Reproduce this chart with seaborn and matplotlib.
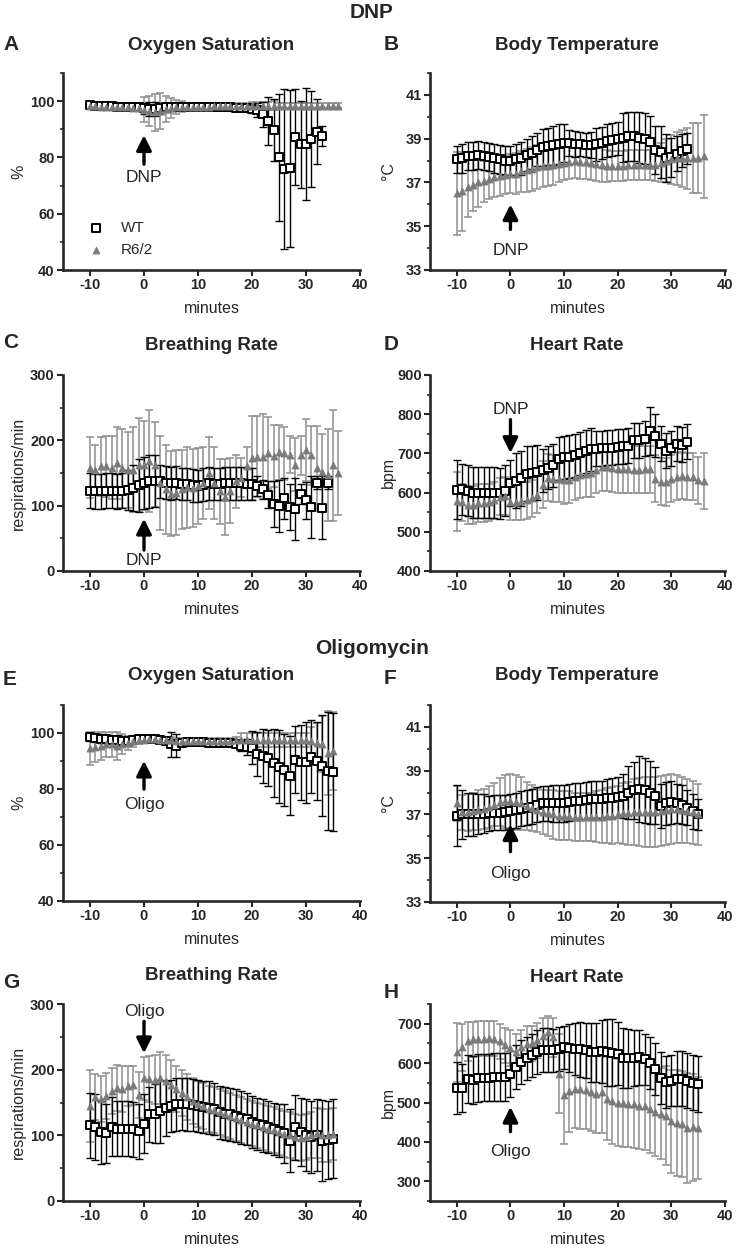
import numpy as np
import matplotlib
matplotlib.use("Agg")
import matplotlib.pyplot as plt
from matplotlib.ticker import AutoMinorLocator
import seaborn as sns

sns.set_style("ticks")
plt.rcParams["font.family"] = ["Liberation Sans", "DejaVu Sans"]
plt.rcParams["font.weight"] = "bold"
plt.rcParams["axes.unicode_minus"] = False

# ---------------- DNP ----------------
# A: oxygen saturation (%)
a_wt_min = np.arange(-10, 34)
a_wt = [98.5, 98.4, 98.3, 98.2, 98.1, 98.0, 98.0, 97.9, 97.8, 97.8,
        97.4, 97.2, 97.3, 97.5, 97.8, 97.9, 98.0, 98.0, 98.0, 98.0,
        98.0, 98.0, 98.0, 97.9, 97.9, 97.8, 97.8, 97.7, 97.7, 97.6,
        97.3, 96.8, 95.3, 92.9, 89.6, 80.0, 75.9, 76.1, 87.3, 84.7,
        84.7, 86.5, 89.2, 87.6]
a_wt_err = [0.8] * 10 + [2.0, 2.5, 2.5, 2.0, 1.5, 1.5, 1.2] + [0.8] * 13 + \
           [1.5, 2.5, 4.5, 8.5, 11.0, 22.5, 28.5, 28.0, 17.0, 15.5, 20.0, 17.0, 11.5, 3.5]
a_r6_min = np.arange(-10, 37)
a_r6 = [98.2, 98.1, 98.0, 98.0, 97.9, 97.9, 97.8, 97.8, 97.7, 97.6,
        97.0, 96.5, 96.0, 96.5, 97.2, 97.6, 97.8, 98.0, 98.0, 98.0,
        98.0, 98.0, 98.0, 98.1, 98.1, 98.1, 98.1, 98.2, 98.2, 98.3,
        98.3, 98.3, 98.3, 98.3, 98.4, 98.4, 98.4, 98.4, 98.4, 98.4,
        98.4, 98.4, 98.4, 98.4, 98.4, 98.4, 98.4]
a_r6_err = [0.8] * 10 + [4.5, 5.5, 6.5, 6.5, 4.5, 3.5, 2.5, 2.0, 1.5] + [1.0] * 11 + \
           [1.5] * 5 + [0.8] * 12

# B: body temperature (C)
b_wt_min = np.arange(-10, 34)
b_wt = [38.05, 38.1, 38.2, 38.2, 38.25, 38.2, 38.15, 38.1, 38.05, 38.0,
        38.0, 38.05, 38.1, 38.25, 38.35, 38.5, 38.6, 38.65, 38.7, 38.75,
        38.8, 38.8, 38.75, 38.75, 38.7, 38.7, 38.75, 38.8, 38.9, 38.95,
        39.0, 39.05, 39.1, 39.1, 39.05, 39.0, 38.85, 38.5, 38.4, 38.1,
        38.15, 38.3, 38.45, 38.55]
b_wt_err = [0.6, 0.65, 0.65, 0.65, 0.65, 0.65, 0.65, 0.65, 0.65, 0.65,
            0.65, 0.7, 0.75, 0.75, 0.75, 0.75, 0.85, 0.85, 0.9, 0.9,
            0.85, 0.6, 0.6, 0.55, 0.55, 0.6, 0.75, 0.75, 0.75, 0.75,
            0.75, 1.1, 1.1, 1.1, 1.15, 1.15, 1.2, 1.1, 1.2, 1.1,
            0.9, 0.8, 0.75, 0.7]
b_r6_min = np.arange(-10, 37)
b_r6 = [36.5, 36.6, 36.8, 36.9, 37.0, 37.05, 37.15, 37.25, 37.3, 37.35,
        37.4, 37.4, 37.5, 37.55, 37.6, 37.7, 37.75, 37.75, 37.8, 37.85,
        37.9, 37.95, 38.0, 37.95, 37.95, 37.9, 37.85, 37.8, 37.75, 37.75,
        37.75, 37.75, 37.8, 37.8, 37.8, 37.8, 37.8, 37.8, 37.9, 38.0,
        38.05, 38.1, 38.1, 38.1, 38.1, 38.1, 38.2]
b_r6_err = [1.9, 1.8, 1.4, 1.2, 1.1, 0.95, 0.9, 0.9, 0.9, 0.9,
            0.9, 0.95, 0.95, 1.0, 1.0, 1.0, 0.95, 0.9, 0.9, 0.85,
            0.8, 0.8, 0.8, 0.8, 0.8, 0.8, 0.8, 0.8, 0.75, 0.7,
            0.7, 0.7, 0.7, 0.7, 0.7, 0.7, 0.7, 0.75, 0.9, 1.0,
            1.1, 1.2, 1.3, 1.4, 1.6, 1.6, 1.9]

# C: breathing rate (respirations/min)
c_wt_min = np.arange(-10, 35)
c_wt = [123, 122, 122, 123, 123, 122, 123, 124, 127, 131,
        135, 137, 138, 137, 135, 134, 135, 133, 133, 131,
        130, 132, 134, 133, 133, 134, 134, 134, 134, 133,
        133, 130, 125, 117, 103, 100, 111, 98, 95, 118,
        108, 98, 135, 97, 135]
c_wt_err = [27, 27, 27, 27, 27, 27, 27, 30, 35, 40,
            40, 40, 40, 25, 25, 25, 25, 25, 25, 25,
            25, 25, 25, 25, 25, 25, 25, 25, 25, 25,
            25, 15, 15, 20, 35, 40, 32, 35, 47, 15,
            28, 48, 10, 48, 10]
c_r6_min = np.arange(-10, 37)
c_r6 = [158, 155, 160, 160, 158, 165, 157, 155, 155, 162,
        162, 168, 163, 135, 125, 118, 120, 125, 128, 127,
        130, 135, 150, 135, 122, 113, 123, 137, 143, 160,
        173, 175, 175, 180, 176, 182, 180, 178, 163, 177,
        185, 177, 157, 152, 147, 162, 150]
c_r6_err = [47, 38, 45, 47, 48, 55, 60, 58, 65, 72,
            68, 78, 65, 72, 68, 65, 65, 60, 62, 60,
            58, 55, 55, 55, 50, 58, 50, 40, 30, 30,
            65, 62, 65, 55, 48, 42, 40, 28, 40, 30,
            48, 45, 65, 58, 70, 85, 65]

# D: heart rate (bpm)
d_wt_min = np.arange(-10, 34)
d_wt = [607, 608, 605, 600, 600, 600, 600, 600, 598, 605,
        625, 630, 637, 648, 650, 652, 657, 663, 670, 686,
        690, 692, 695, 700, 705, 710, 712, 713, 715, 715,
        717, 718, 720, 733, 733, 738, 757, 745, 725, 707,
        713, 725, 722, 730]
d_wt_err = [75, 65, 65, 65, 65, 65, 65, 65, 65, 65,
            58, 70, 70, 70, 70, 70, 55, 55, 55, 55,
            55, 55, 55, 55, 55, 55, 45, 45, 45, 45,
            45, 45, 45, 45, 45, 45, 62, 55, 45, 45,
            45, 45, 45, 45]
d_r6_min = np.arange(-10, 37)
d_r6 = [578, 575, 568, 568, 573, 573, 575, 580, 590, 592,
        577, 577, 578, 580, 585, 595, 620, 638, 635, 635,
        632, 633, 640, 645, 648, 650, 658, 665, 665, 662,
        660, 660, 660, 658, 658, 660, 660, 635, 628, 627,
        635, 640, 643, 640, 640, 632, 630]
d_r6_err = [75] + [48] * 15 + [60] * 30 + [72]

# ---------------- Oligomycin ----------------
# E: oxygen saturation (%)
e_wt_min = np.arange(-10, 36)
e_wt = [98.5, 98.2, 98.0, 97.8, 97.6, 97.5, 97.3, 97.2, 97.5, 97.7,
        97.8, 97.8, 97.8, 97.6, 97.3, 96.0, 95.5, 96.5, 96.8, 96.8,
        96.8, 96.7, 96.6, 96.5, 96.3, 96.3, 96.3, 96.0, 95.5, 95.0,
        94.8, 92.5, 91.8, 91.2, 89.3, 88.0, 86.8, 84.8, 90.5, 89.5,
        89.5, 91.5, 90.0, 88.3, 86.5, 86.0]
e_wt_err = [1.5] * 7 + [1.0] * 8 + [4.5, 4.0] + [1.0] * 11 + \
           [2.0, 3.0, 6.0, 8.0, 9.5, 10.0, 12.0, 13.0, 13.0, 14.0,
            12.0, 13.5, 14.5, 13.0, 14.0, 18.0, 21.0, 21.0]
e_r6_min = np.arange(-10, 36)
e_r6 = [94.5, 95.0, 95.5, 96.0, 96.0, 95.5, 96.0, 96.5, 97.0, 97.5,
        97.6, 97.7, 97.7, 97.6, 97.5, 97.4, 97.3, 97.3, 97.3, 97.3,
        97.3, 97.3, 97.3, 97.3, 97.3, 97.3, 97.3, 97.4, 97.4, 97.5,
        97.5, 97.5, 97.5, 97.5, 97.5, 97.5, 97.5, 97.5, 97.5, 97.5,
        97.5, 97.0, 96.5, 96.0, 93.0, 93.5]
e_r6_err = [6.0, 5.5, 5.0, 4.5, 4.5, 5.0, 3.5, 2.5, 2.0, 1.5] + [1.0] * 18 + \
           [2.5] * 13 + [5.0, 7.0, 10.0, 15.0, 14.0]

# F: body temperature (C)
f_wt_min = np.arange(-10, 36)
f_wt = [36.95, 37.0, 37.0, 37.0, 37.02, 37.03, 37.05, 37.07, 37.08, 37.1,
        37.15, 37.2, 37.25, 37.3, 37.35, 37.45, 37.5, 37.5, 37.5, 37.5,
        37.5, 37.55, 37.6, 37.6, 37.65, 37.7, 37.7, 37.7, 37.75, 37.75,
        37.8, 37.85, 38.0, 38.1, 38.15, 38.1, 38.0, 37.85, 37.4, 37.5,
        37.55, 37.5, 37.45, 37.3, 37.15, 37.0]
f_wt_err = [1.4, 1.1, 1.0, 1.0, 0.9, 0.9, 0.8, 0.8, 0.8, 0.8,
            0.8, 0.8, 0.8, 0.8, 0.8, 0.8, 0.8, 0.8, 0.85, 0.85,
            0.85, 0.85, 0.85, 0.85, 0.85, 0.85, 0.85, 0.85, 0.85, 0.9,
            0.9, 1.0, 1.2, 1.3, 1.5, 1.5, 1.45, 1.3, 1.0, 1.0,
            1.0, 0.9, 0.9, 0.8, 0.8, 0.7]
f_r6_min = np.arange(-10, 36)
f_r6 = [37.5, 37.1, 37.1, 37.15, 37.2, 37.25, 37.35, 37.45, 37.55, 37.6,
        37.6, 37.55, 37.5, 37.4, 37.3, 37.2, 37.1, 37.05, 37.0, 36.95,
        36.95, 36.95, 36.9, 36.9, 36.9, 36.9, 36.9, 36.9, 36.95, 36.95,
        37.0, 37.05, 37.05, 37.1, 37.1, 37.1, 37.1, 37.1, 37.15, 37.2,
        37.25, 37.25, 37.2, 37.15, 37.1, 37.0]
f_r6_err = [0.8, 0.8, 0.85, 0.85, 0.9, 0.9, 0.95, 1.0, 1.1, 1.2,
            1.25, 1.25, 1.2, 1.1, 1.05, 1.0, 1.0, 1.05, 1.1, 1.1,
            1.1, 1.1, 1.1, 1.1, 1.1, 1.1, 1.15, 1.2, 1.25, 1.3,
            1.3, 1.4, 1.45, 1.5, 1.55, 1.6, 1.6, 1.6, 1.6, 1.6,
            1.6, 1.55, 1.5, 1.45, 1.45, 1.4]

# G: breathing rate (respirations/min)
g_wt_min = np.arange(-10, 36)
g_wt = [115, 113, 105, 103, 113, 110, 110, 110, 109, 106,
        118, 132, 133, 137, 141, 145, 147, 148, 147, 146,
        145, 143, 142, 140, 135, 133, 132, 130, 127, 125,
        120, 117, 115, 113, 110, 107, 103, 92, 112, 105,
        100, 97, 100, 92, 93, 95]
g_wt_err = [50, 50, 48, 45, 45, 42, 42, 42, 42, 42,
            45, 42, 45, 48, 42, 40, 40, 40, 40, 40,
            40, 40, 40, 40, 40, 40, 40, 40, 40, 40,
            40, 40, 40, 40, 40, 40, 45, 48, 50, 52,
            55, 55, 55, 62, 60, 60]
g_r6_min = np.arange(-10, 36)
g_r6 = [145, 158, 155, 160, 168, 172, 170, 175, 176, 162,
        187, 186, 185, 187, 183, 177, 170, 165, 158, 152,
        148, 144, 140, 138, 135, 133, 130, 127, 124, 121,
        118, 115, 113, 110, 108, 105, 102, 100, 97, 96,
        98, 100, 103, 100, 100, 102]
g_r6_err = [55, 35, 35, 35, 35, 35, 35, 30, 30, 35,
            33, 35, 38, 40, 40, 38, 35, 35, 35, 35,
            35, 35, 35, 35, 35, 35, 35, 35, 35, 35,
            35, 35, 35, 35, 35, 35, 35, 35, 35, 35,
            35, 35, 38, 40, 40, 40]

# H: heart rate (bpm)
h_wt_min = np.arange(-10, 36)
h_wt = [537, 537, 560, 557, 562, 563, 563, 565, 565, 565,
        573, 590, 603, 612, 620, 628, 633, 633, 632, 636,
        640, 638, 636, 635, 632, 628, 628, 630, 628, 626,
        624, 613, 612, 613, 615, 610, 600, 585, 562, 552,
        555, 560, 560, 555, 550, 547]
h_wt_err = [65, 60, 60, 60, 60, 60, 60, 60, 60, 60,
            58, 55, 55, 55, 55, 55, 55, 55, 55, 55,
            55, 60, 65, 70, 70, 75, 75, 80, 85, 85,
            80, 75, 75, 70, 70, 65, 65, 65, 65, 65,
            65, 70, 70, 70, 70, 70]
h_r6_min = np.arange(-10, 36)
h_r6 = [628, 640, 655, 660, 662, 662, 663, 662, 655, 645,
        638, 628, 640, 648, 650, 658, 670, 680, 665, 573,
        520, 530, 535, 533, 532, 527, 522, 527, 510, 505,
        500, 498, 497, 495, 492, 490, 483, 475, 472, 467,
        452, 448, 445, 435, 437, 435]
h_r6_err = [75, 60, 50, 45, 45, 45, 45, 45, 45, 45,
            45, 45, 45, 45, 45, 45, 45, 40, 50, 100,
            125, 105, 100, 100, 100, 100, 100, 105, 105, 110,
            110, 110, 110, 110, 110, 110, 110, 110, 115, 125,
            130, 135, 135, 140, 135, 130]

W, H = 743, 1248
fig = plt.figure(figsize=(W / 100, H / 100), dpi=100)


def px_axes(left, top, right, bottom):
    return fig.add_axes([left / W, 1 - bottom / H, (right - left) / W, (bottom - top) / H])


GREY = "#7a7a7a"
GREY_BAR = "#8e8e8e"


def draw(ax, xw, yw, ew, xr, yr, er, ylim, yticks, ylabel, legend=False):
    ax.errorbar(xr, yr, yerr=er, fmt="none", ecolor=GREY_BAR, elinewidth=1.1,
                capsize=2.8, capthick=1.1, zorder=2)
    ax.errorbar(xw, yw, yerr=ew, fmt="none", ecolor="black", elinewidth=1.0,
                capsize=2.8, capthick=1.0, zorder=3)
    sns.scatterplot(x=xw, y=yw, marker="s", s=27, color="white", edgecolor="black",
                    linewidth=1.4, ax=ax, zorder=4, label="WT" if legend else None)
    sns.scatterplot(x=xr, y=yr, marker="^", s=26, color=GREY, edgecolor=GREY,
                    linewidth=0.5, ax=ax, zorder=5, label="R6/2" if legend else None)
    ax.set_xlim(-15, 40)
    ax.set_xticks([-10, 0, 10, 20, 30, 40])
    ax.set_ylim(*ylim)
    ax.set_yticks(yticks)
    ax.yaxis.set_minor_locator(AutoMinorLocator(2))
    sns.despine(ax=ax)
    for s in ["left", "bottom"]:
        ax.spines[s].set_linewidth(1.9)
    ax.tick_params(which="major", length=4, width=1.5, labelsize=10.5, pad=2)
    ax.tick_params(which="minor", axis="y", length=2.5, width=1.2)
    ax.set_xlabel("minutes", fontsize=11.5, va="center")
    ax.xaxis.set_label_coords(0.5, -0.195)
    ax.set_ylabel(ylabel, fontsize=11.5, va="center", ha="center")
    ax.yaxis.set_label_coords(-0.15, 0.5)
    if legend:
        ax.legend(loc="lower left", bbox_to_anchor=(0.03, 0.02), frameon=False,
                  prop={"size": 11, "weight": "normal"}, handletextpad=0.6,
                  labelspacing=0.5, borderaxespad=0.2)
    else:
        if ax.get_legend() is not None:
            ax.get_legend().remove()


def arrow(ax, x, head, tail, text_y, label):
    ax.annotate("", xy=(x, head), xytext=(x, tail),
                arrowprops=dict(arrowstyle="-|>,head_length=0.6,head_width=0.3",
                                color="black", lw=2.4, mutation_scale=15,
                                shrinkA=0, shrinkB=0), zorder=6)
    ax.text(x, text_y, label, ha="center", va="center", fontsize=12.5,
            fontweight="normal", zorder=6)


axA = px_axes(63, 73, 360, 270)
axB = px_axes(430, 73, 725, 270)
axC = px_axes(63, 375, 360, 571)
axD = px_axes(430, 375, 725, 571)
axE = px_axes(63, 705, 360, 901)
axF = px_axes(430, 705, 725, 902)
axG = px_axes(63, 1004, 360, 1201)
axH = px_axes(430, 1004, 725, 1201)

draw(axA, a_wt_min, a_wt, a_wt_err, a_r6_min, a_r6, a_r6_err, (40, 110), [40, 60, 80, 100], "%", legend=True)
draw(axB, b_wt_min, b_wt, b_wt_err, b_r6_min, b_r6, b_r6_err, (33, 42), [33, 35, 37, 39, 41], "°C")
draw(axC, c_wt_min, c_wt, c_wt_err, c_r6_min, c_r6, c_r6_err, (0, 300), [0, 100, 200, 300], "respirations/min")
draw(axD, d_wt_min, d_wt, d_wt_err, d_r6_min, d_r6, d_r6_err, (400, 900), [400, 500, 600, 700, 800, 900], "bpm")
draw(axE, e_wt_min, e_wt, e_wt_err, e_r6_min, e_r6, e_r6_err, (40, 110), [40, 60, 80, 100], "%")
draw(axF, f_wt_min, f_wt, f_wt_err, f_r6_min, f_r6, f_r6_err, (33, 42), [33, 35, 37, 39, 41], "°C")
draw(axG, g_wt_min, g_wt, g_wt_err, g_r6_min, g_r6, g_r6_err, (0, 300), [0, 100, 200, 300], "respirations/min")
draw(axH, h_wt_min, h_wt, h_wt_err, h_r6_min, h_r6, h_r6_err, (250, 750), [300, 400, 500, 600, 700], "bpm")

for ax in [axB, axD, axF, axH]:
    ax.yaxis.set_label_coords(-0.142, 0.5)

arrow(axA, 0, 87.9, 77.6, 72.9, "DNP")
arrow(axB, 0, 36.0, 34.85, 33.9, "DNP")
arrow(axC, 0, 80, 32, 16, "DNP")
arrow(axD, 0, 701, 786, 812, "DNP")
arrow(axE, 0, 90.1, 80, 74.6, "Oligo")
arrow(axF, 0, 36.55, 35.3, 34.3, "Oligo")
arrow(axG, 0, 225, 273.5, 289, "Oligo")
arrow(axH, 0, 489, 426, 375, "Oligo")


def ftext(x, y, s, **kw):
    fig.text(x / W, 1 - y / H, s, **kw)


ftext(372, 13, "DNP", ha="center", va="center", fontsize=15)
ftext(372, 648, "Oligomycin", ha="center", va="center", fontsize=15)

titles = [("Oxygen Saturation", 211, 45), ("Body Temperature", 577, 45),
          ("Breathing Rate", 211, 345), ("Heart Rate", 577, 345),
          ("Oxygen Saturation", 211, 676), ("Body Temperature", 577, 676),
          ("Breathing Rate", 211, 976), ("Heart Rate", 577, 977)]
for s, x, y in titles:
    ftext(x, y, s, ha="center", va="center", fontsize=13.5)

letters = [("A", 3, 45), ("B", 384, 45), ("C", 3, 343), ("D", 384, 345),
           ("E", 3, 680), ("F", 384, 679), ("G", 3, 983), ("H", 384, 993)]
for s, x, y in letters:
    ftext(x, y, s, ha="left", va="center", fontsize=15)

fig.savefig("out.png", dpi=100)
